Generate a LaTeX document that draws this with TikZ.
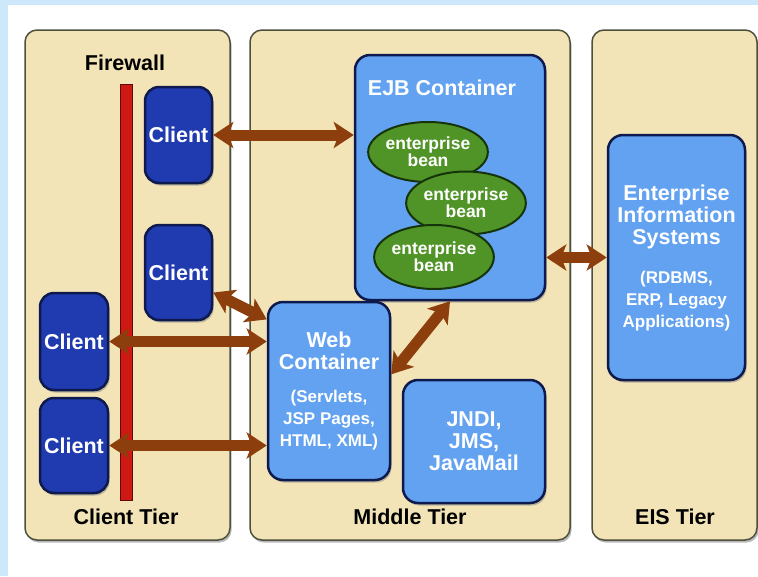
\documentclass[tikz,border=0pt]{standalone}
\usepackage{fontspec}
\setmainfont{Liberation Sans}
\usetikzlibrary{positioning,shapes.geometric,shadows,arrows.meta}

\definecolor{skyback}{RGB}{204,232,250}
\definecolor{tiertan}{RGB}{242,228,182}
\definecolor{tieredge}{RGB}{78,80,62}
\definecolor{clientblue}{RGB}{32,58,176}
\definecolor{boxblue}{RGB}{98,162,240}
\definecolor{boxedge}{RGB}{14,26,78}
\definecolor{beangreen}{RGB}{80,148,40}
\definecolor{beanedge}{RGB}{22,52,10}
\definecolor{wallred}{RGB}{206,24,20}
\definecolor{walledge}{RGB}{96,10,8}
\definecolor{linkbrown}{RGB}{140,62,12}

\newcommand{\bigfont}{\bfseries\fontsize{21.5}{22}\selectfont}
\newcommand{\smallfont}{\bfseries\fontsize{17}{22}\selectfont}

\tikzset{
  tier/.style={draw=tieredge, line width=1.5pt, fill=tiertan, rounded corners=12pt,
    drop shadow={shadow xshift=1.5pt, shadow yshift=-2.5pt, opacity=0.55}},
  tiertext/.style={font=\bigfont, text=black, inner sep=0pt},
  wall/.style={draw=walledge, line width=1pt, fill=wallred, inner sep=0pt},
  client/.style={draw=boxedge, line width=2.5pt, fill=clientblue, rounded corners=14pt,
    font=\bigfont, text=white, inner sep=0pt,
    drop shadow={shadow xshift=1.5pt, shadow yshift=-2.5pt, opacity=0.5}},
  panel/.style={draw=boxedge, line width=2.5pt, fill=boxblue, rounded corners=15pt,
    font=\bigfont, text=white, align=center, inner sep=0pt,
    drop shadow={shadow xshift=1.5pt, shadow yshift=-2.5pt, opacity=0.5}},
  boxtext/.style={font=\bigfont, text=white, inner sep=0pt},
  bean/.style={ellipse, draw=beanedge, line width=2pt, fill=beangreen, inner sep=0pt,
    font=\bfseries\fontsize{17.5}{17}\selectfont, text=white, align=center},
  link/.style={draw=linkbrown, line width=11pt,
    {Stealth[length=20pt, width=26pt, inset=5pt]}-{Stealth[length=20pt, width=26pt, inset=5pt]}}
}

\begin{document}
\begin{tikzpicture}[x=1pt,y=-1pt]
  \fill[skyback] (0,0) rectangle (758,576);
  \fill[white] (8,5) rectangle (758,576);
  \useasboundingbox (0,0) rectangle (758,576);

  % tiers
  \node[tier, minimum width=205pt, minimum height=510pt] (ctier) at (127.5,285) {};
  \node[tier, minimum width=320pt, minimum height=510pt] (mtier) at (410,285) {};
  \node[tier, minimum width=165pt, minimum height=510pt] (etier) at (674.5,285) {};
  \node[tiertext] (fwl) at (125,63) {Firewall};
  \node[tiertext] (ctl) at (126,517) {Client Tier};
  \node[tiertext] (mtl) at (410,517) {Middle Tier};
  \node[tiertext] (etl) at (675,517) {EIS Tier};

  % firewall and clients
  \node[wall, minimum width=12pt, minimum height=416pt] (fw) at (126,292) {};
  \node[client, minimum width=67pt, minimum height=96pt] (c1) at (178.5,135) {Client};
  \node[client, minimum width=67pt, minimum height=95pt] (c2) at (178.5,272.5) {Client};
  \node[client, minimum width=68pt, minimum height=97pt] (c3) at (74,341.5) {Client};
  \node[client, minimum width=68pt, minimum height=95pt] (c4) at (74,445.5) {Client};

  % middle tier
  \node[panel, minimum width=190pt, minimum height=245pt] (ejb) at (450,177.5) {};
  \node[boxtext] (ejbt) at (442,88) {EJB Container};
  \node[bean, minimum width=104pt, minimum height=60pt] (b1) at (428,152) {enterprise\\bean};
  \node[bean, minimum width=102pt, minimum height=63pt] (b2) at (466,203) {enterprise\\bean};
  \node[bean, minimum width=102pt, minimum height=64pt] (b3) at (434,257) {enterprise\\bean};
  \node[panel, minimum width=122pt, minimum height=178pt] (web) at (329,391)
    {Web\\Container\\[11pt]\smallfont(Servlets,\\\smallfont JSP Pages,\\\smallfont HTML, XML)};
  \node[panel, minimum width=142pt, minimum height=123pt] (jndi) at (474,441.5)
    {JNDI,\\JMS,\\JavaMail};

  % eis tier
  \node[panel, minimum width=137pt, minimum height=245pt] (eis) at (676.5,257.5)
    {Enterprise\\Information\\Systems\\[17pt]\smallfont(RDBMS,\\\smallfont ERP, Legacy\\\smallfont Applications)};

  % links
  \draw[link] (c1.east) -- (c1.east -| ejb.west);
  \draw[link] (c2.-30) -- (web.131);
  \draw[link] (c3.east) -- (c3.east -| web.west);
  \draw[link] (c4.east) -- (c4.east -| web.west);
  \draw[link] (web.15) -- (ejb.south);
  \draw[link] (ejb.east |- eis.west) -- (eis.west);
\end{tikzpicture}
\end{document}
